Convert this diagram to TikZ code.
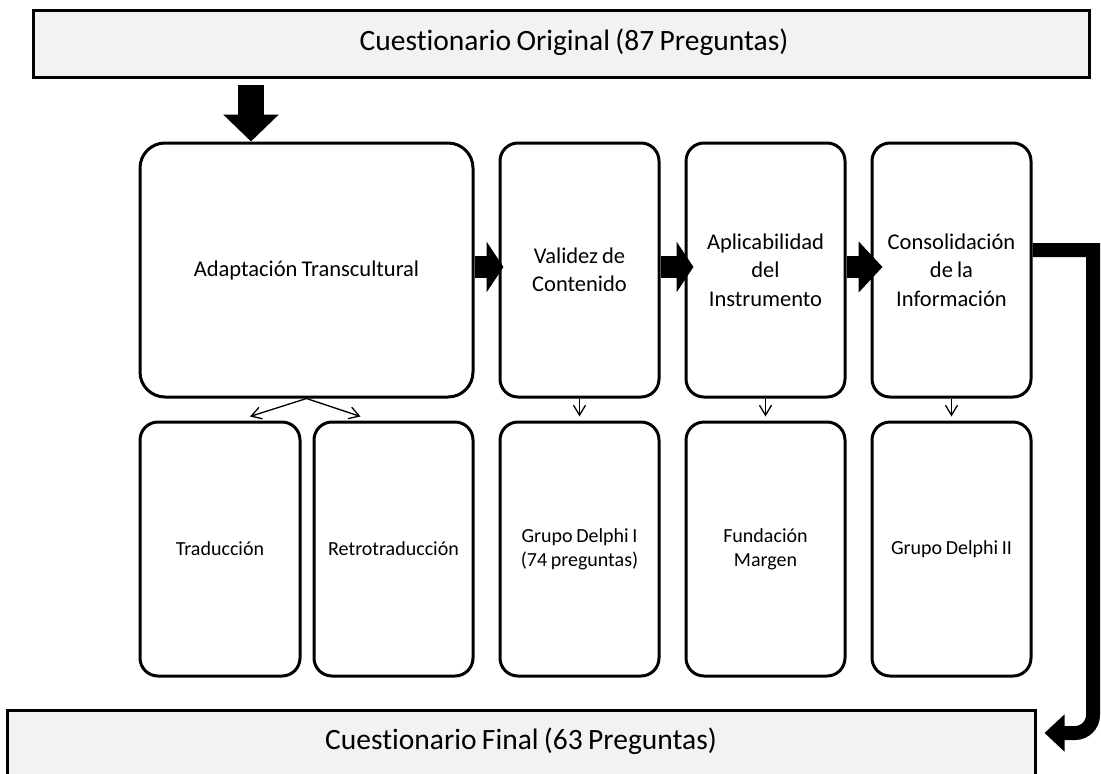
\documentclass[tikz,border=0pt]{standalone}
\usepackage{fontspec}
\setmainfont{Carlito}[WordSpace=0.8, Ligatures=NoCommon]
\usetikzlibrary{arrows.meta,calc}
\definecolor{panelgray}{HTML}{F2F2F2}

\tikzset{
  x=1pt, y=-1pt,
  banner/.style={draw, line width=3pt, fill=panelgray, inner sep=0pt},
  bannertext/.style={inner sep=0pt, font={\fontsize{29.5}{34}\selectfont}},
  bigstage/.style={draw, line width=3pt, rounded corners=25pt, inner sep=0pt,
    align=center, font={\fontsize{22.5}{28.5}\selectfont}},
  stage/.style={draw, line width=3pt, rounded corners=18pt, inner sep=0pt,
    minimum width=159pt, minimum height=254pt, align=center,
    font={\fontsize{22.5}{28.5}\selectfont}},
  substage/.style={stage, font={\fontsize{20}{24}\selectfont}},
  blockarrow/.style={line width=22pt, -{Triangle[width=50pt,length=17pt]}},
  thinarrow/.style={line width=1.3pt, -{Straight Barb[length=10pt,width=12pt]}}
}

\begin{document}
\begin{tikzpicture}
\clip (0,0) rectangle (1101,774);
\fill[white] (0,0) rectangle (1101,774);

% header and footer banners
\node[banner, minimum width=1056pt, minimum height=67pt] (orig) at (561,43.5) {};
\node[bannertext] (origtext) at ([xshift=13pt,yshift=1pt]orig.center)
  {Cuestionario Original (87 Preguntas)};
\node[banner, minimum width=1028pt, minimum height=68pt] (final) at (521,744) {};
\node[bannertext] (finaltext) at ([yshift=3pt]final.center)
  {Cuestionario Final (63 Preguntas)};

% upper row: stages
\node[bigstage, minimum width=333pt, minimum height=254pt] (adapt) at (306.5,270)
  {Adaptación Transcultural};
\node[stage] (valid) at (579.5,270) {Validez de\\Contenido};
\node[stage] (aplic) at (765.5,270) {Aplicabilidad\\del\\Instrumento};
\node[stage] (cons)  at (951.5,270) {Consolidación\\de la\\Información};

% lower row: activities
\node[substage, minimum width=160pt] (trad) at (220,549) {Traducción};
\node[substage] (retro) at (393.5,549) {Retrotraducción};
\node[substage] (delphiA) at (579.5,549) {Grupo Delphi I\\(74 preguntas)};
\node[substage] (fund) at (765.5,549) {Fundación\\Margen};
\node[substage] (delphiB) at (951.5,549) {Grupo Delphi II};

% entry arrow
\coordinate (entry) at ($(adapt.north west)+(112.5,0)$);
\draw[line width=26pt, -{Triangle[width=54pt,length=27pt]}, shorten <=6pt]
  (orig.south -| entry) -- (entry);

% flow between stages
\draw[blockarrow, shorten >=-5pt]
  ([yshift=3pt]adapt.east) -- ([yshift=3pt]valid.west);
\draw[blockarrow, shorten >=-9pt]
  ([yshift=3pt]valid.east) -- ([yshift=3pt]aplic.west);
\draw[line width=22pt, -{Triangle[width=50pt,length=24pt]}, shorten >=-12pt]
  ([yshift=3pt]aplic.east) -- ([yshift=3pt]cons.west);

% stage to activity links
\draw[thinarrow] (adapt.south) -- ([xshift=30pt,yshift=4pt]trad.north);
\draw[thinarrow] (adapt.south) -- ([xshift=-33pt,yshift=4pt]retro.north);
\draw[thinarrow] (valid.south) -- ([yshift=4pt]delphiA.north);
\draw[thinarrow] (aplic.south) -- ([yshift=4pt]fund.north);
\draw[thinarrow] (cons.south) -- ([yshift=4pt]delphiB.north);

% return path to the final questionnaire
\coordinate (turnA) at (1093,250);
\coordinate (turnB) at (1093,733);
\draw[line width=14pt, -{Triangle[width=36pt,length=20pt]}]
  ([yshift=20pt]cons.east) -- (turnA) [rounded corners=18pt] -- (turnB)
  -- ([xshift=8pt,yshift=11pt]final.east);
\end{tikzpicture}
\end{document}
